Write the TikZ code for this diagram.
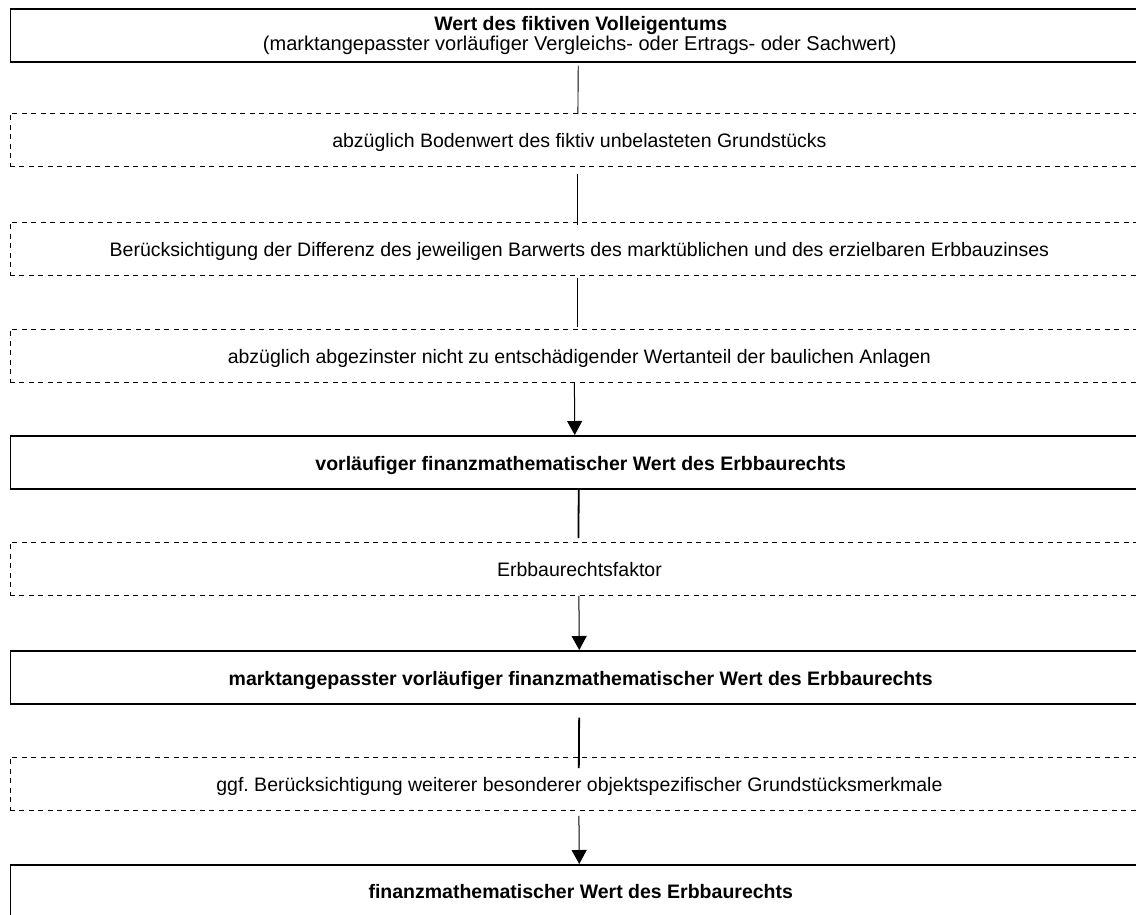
\documentclass[tikz,border=0pt]{standalone}
\usepackage{fontspec}
\setmainfont{Liberation Sans}
\usetikzlibrary{arrows.meta,calc}
\frenchspacing

\begin{document}
\begin{tikzpicture}[x=1pt,y=1pt,
  framebox/.style={minimum width=1141pt, minimum height=53pt, inner sep=0pt, anchor=north west},
  solidbox/.style={framebox, draw, line width=1.5pt},
  dashbox/.style={framebox, draw, line width=0.8pt, dash pattern=on 5pt off 4.5pt},
  boldtxt/.style={font=\fontsize{19.5}{23}\selectfont\bfseries, inner sep=0pt, anchor=base},
  plaintxt/.style={font=\fontsize{19.5}{23}\selectfont, inner sep=0pt, anchor=base},
  conn/.style={line width=0.9pt},
  thickconn/.style={line width=1.8pt},
  arr/.style={line width=1pt, -{Triangle[width=15pt,length=14pt]}}
]
\useasboundingbox (0,0) rectangle (1136,-914);
\clip (0,0) rectangle (1136,-914);

% frames, left edges at x = 9.5; right edges lie beyond the page
\node[solidbox] (top) at (9.5,-8) {};
\node[dashbox]  (a)   at (9.5,-113) {};
\node[dashbox]  (b)   at (9.5,-222) {};
\node[dashbox]  (c)   at (9.5,-329) {};
\node[solidbox] (d)   at (9.5,-435) {};
\node[dashbox]  (e)   at (9.5,-542) {};
\node[solidbox] (f)   at (9.5,-650) {};
\node[dashbox]  (g)   at (9.5,-757) {};
\node[solidbox] (h)   at (9.5,-864) {};

% labels, set on their baselines
\node[boldtxt] (toptitle) at ($(top.north)+(0,-22)$) {Wert des fiktiven Volleigentums};
\node[plaintxt, font=\fontsize{20}{23}\selectfont] (topsub) at ($(top.north)+(-1,-42)$) {(marktangepasster vorläufiger Vergleichs- oder Ertrags- oder Sachwert)};
\node[plaintxt] (at) at ($(a.center)+(-1,-7.5)$) {abzüglich Bodenwert des fiktiv unbelasteten Grundstücks};
\node[plaintxt] (bt) at ($(b.center)+(-1,-7.5)$) {Berücksichtigung der Differenz des jeweiligen Barwerts des marktüblichen und des erzielbaren Erbbauzinses};
\node[plaintxt] (ct) at ($(c.center)+(-1,-7.5)$) {abzüglich abgezinster nicht zu entschädigender Wertanteil der baulichen Anlagen};
\node[boldtxt]  (dt) at ($(d.center)+(0,-8)$) {vorläufiger finanzmathematischer Wert des Erbbaurechts};
\node[plaintxt] (et) at ($(e.center)+(-1,-7.5)$) {Erbbaurechtsfaktor};
\node[boldtxt]  (ft) at ($(f.center)+(0,-8)$) {marktangepasster vorläufiger finanzmathematischer Wert des Erbbaurechts};
\node[plaintxt] (gt) at ($(g.center)+(-1,-7.5)$) {ggf. Berücksichtigung weiterer besonderer objektspezifischer Grundstücksmerkmale};
\node[boldtxt]  (ht) at ($(h.north)+(0,-34.5)$) {finanzmathematischer Wert des Erbbaurechts};

% connectors
\draw[conn, shorten <=3pt, shorten >=-1pt] ($(top.south)+(-2.5,0)$) -- ($(a.north)+(-2.5,0)$);
\draw[conn, shorten <=7pt, shorten >=-3pt] ($(a.south)+(-2.5,0)$) -- ($(b.north)+(-2.5,0)$);
\draw[conn, shorten <=2pt, shorten >=2pt] ($(b.south)+(-2.5,0)$) -- ($(c.north)+(-2.5,0)$);
\draw[arr] ($(c.south)+(-6,0)$) -- ($(d.north)+(-6,0)$);
\draw[thickconn, shorten >=4pt] ($(d.south)+(-2,0)$) -- ($(e.north)+(-2,0)$);
\draw[arr] ($(e.south)+(-1.5,0)$) -- ($(f.north)+(-1.5,0)$);
\draw[thickconn, shorten <=13pt, shorten >=-11pt] ($(f.south)+(-1.5,0)$) -- ($(g.north)+(-1.5,0)$);
\draw[arr, shorten <=5pt] ($(g.south)+(-1.5,0)$) -- ($(h.north)+(-1.5,0)$);
\end{tikzpicture}
\end{document}
